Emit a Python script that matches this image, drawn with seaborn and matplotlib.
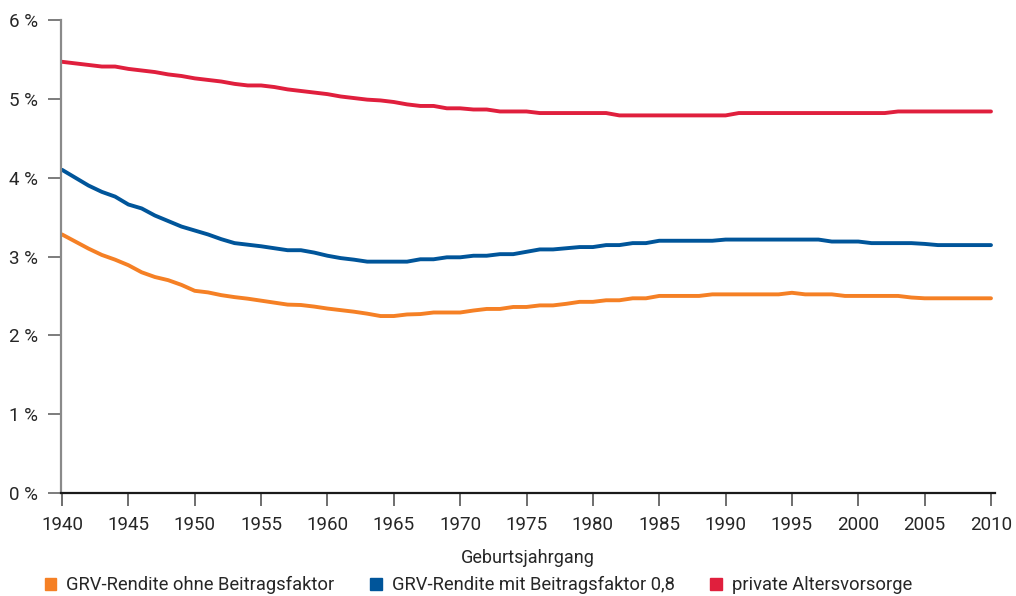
import matplotlib
matplotlib.use("Agg")
import matplotlib.pyplot as plt
import matplotlib.patches as mpatches
import pandas as pd
import seaborn as sns

# ── Data (Rendite in %, je Geburtsjahrgang) ──
years = list(range(1940, 2011))

grv_ohne = [
    3.28, 3.19, 3.10, 3.02, 2.96, 2.89, 2.80, 2.74, 2.70, 2.64,
    2.565, 2.545, 2.51, 2.485, 2.465, 2.44, 2.415, 2.39, 2.385, 2.365,
    2.34, 2.32, 2.30, 2.275, 2.245, 2.245, 2.265, 2.27, 2.29, 2.29,
    2.29, 2.315, 2.335, 2.335, 2.36, 2.36, 2.38, 2.38, 2.40, 2.425,
    2.425, 2.445, 2.445, 2.47, 2.47, 2.50, 2.50, 2.50, 2.50, 2.52,
    2.52, 2.52, 2.52, 2.52, 2.52, 2.54, 2.52, 2.52, 2.52, 2.50,
    2.50, 2.50, 2.50, 2.50, 2.48, 2.47, 2.47, 2.47, 2.47, 2.47,
    2.47,
]

grv_mit = [
    4.10, 4.00, 3.90, 3.82, 3.76, 3.66, 3.61, 3.52, 3.45, 3.38,
    3.33, 3.28, 3.22, 3.17, 3.15, 3.13, 3.105, 3.08, 3.08, 3.05,
    3.01, 2.98, 2.96, 2.935, 2.935, 2.935, 2.935, 2.965, 2.965, 2.99,
    2.99, 3.01, 3.01, 3.03, 3.03, 3.06, 3.09, 3.09, 3.105, 3.12,
    3.12, 3.145, 3.145, 3.17, 3.17, 3.20, 3.20, 3.20, 3.20, 3.20,
    3.215, 3.215, 3.215, 3.215, 3.215, 3.215, 3.215, 3.215, 3.19, 3.19,
    3.19, 3.17, 3.17, 3.17, 3.17, 3.16, 3.145, 3.145, 3.145, 3.145,
    3.145,
]

privat = [
    5.47, 5.45, 5.43, 5.41, 5.41, 5.38, 5.36, 5.34, 5.31, 5.29,
    5.26, 5.24, 5.22, 5.19, 5.17, 5.17, 5.15, 5.12, 5.10, 5.08,
    5.06, 5.03, 5.01, 4.99, 4.98, 4.96, 4.93, 4.91, 4.91, 4.88,
    4.88, 4.865, 4.865, 4.84, 4.84, 4.84, 4.82, 4.82, 4.82, 4.82,
    4.82, 4.82, 4.79, 4.79, 4.79, 4.79, 4.79, 4.79, 4.79, 4.79,
    4.79, 4.82, 4.82, 4.82, 4.82, 4.82, 4.82, 4.82, 4.82, 4.82,
    4.82, 4.82, 4.82, 4.84, 4.84, 4.84, 4.84, 4.84, 4.84, 4.84,
    4.84,
]

series_names = [
    "GRV-Rendite ohne Beitragsfaktor",
    "GRV-Rendite mit Beitragsfaktor 0,8",
    "private Altersvorsorge",
]
colors = ["#F58025", "#00559A", "#E01F3D"]

x_ticks = list(range(1940, 2011, 5))
y_ticks = [0, 1, 2, 3, 4, 5, 6]
y_tick_labels = [f"{v} %" for v in y_ticks]

df = pd.DataFrame({
    "Jahrgang": years * 3,
    "Rendite": grv_ohne + grv_mit + privat,
    "Reihe": [series_names[0]] * len(years)
    + [series_names[1]] * len(years)
    + [series_names[2]] * len(years),
})

sns.set_style("white")
plt.rcParams["font.family"] = ["Roboto", "DejaVu Sans"]
plt.rcParams["font.size"] = 13

fig = plt.figure(figsize=(10.16, 5.96), dpi=100)
ax = fig.add_axes([0.060, 0.1728, 0.9193, 0.7936])

sns.lineplot(
    data=df, x="Jahrgang", y="Rendite", hue="Reihe",
    hue_order=series_names, palette=colors,
    linewidth=2.8, legend=False, ax=ax,
)

ax.set_xlim(1939.92, 2010.3)
ax.set_ylim(0, 6)
ax.set_xticks(x_ticks)
ax.set_yticks(y_ticks)
ax.set_yticklabels(y_tick_labels)
ax.set_xlabel("Geburtsjahrgang", fontsize=13, labelpad=11)
ax.set_ylabel("")

for side in ("top", "right"):
    ax.spines[side].set_visible(False)
ax.spines["left"].set_color("#8a8a8a")
ax.spines["left"].set_linewidth(1.6)
ax.spines["bottom"].set_color("#1a1a1a")
ax.spines["bottom"].set_linewidth(1.6)

ax.tick_params(axis="x", direction="out", length=9.5, width=1.2,
               color="#555555", pad=7, labelsize=13.5, bottom=True)
ax.tick_params(axis="y", direction="out", length=9.5, width=1.2,
               color="#666666", pad=7, labelsize=13.5, left=True)

handles = [mpatches.Patch(color=c, label=n) for c, n in zip(colors, series_names)]
fig.legend(
    handles=handles, loc="center left", bbox_to_anchor=(0.044, 0.018),
    ncol=3, frameon=False, fontsize=13.2, handlelength=0.62, handleheight=0.62,
    handletextpad=0.55, columnspacing=1.95, borderpad=0, borderaxespad=0,
)

fig.savefig("out.png", dpi=100)
plt.close(fig)
